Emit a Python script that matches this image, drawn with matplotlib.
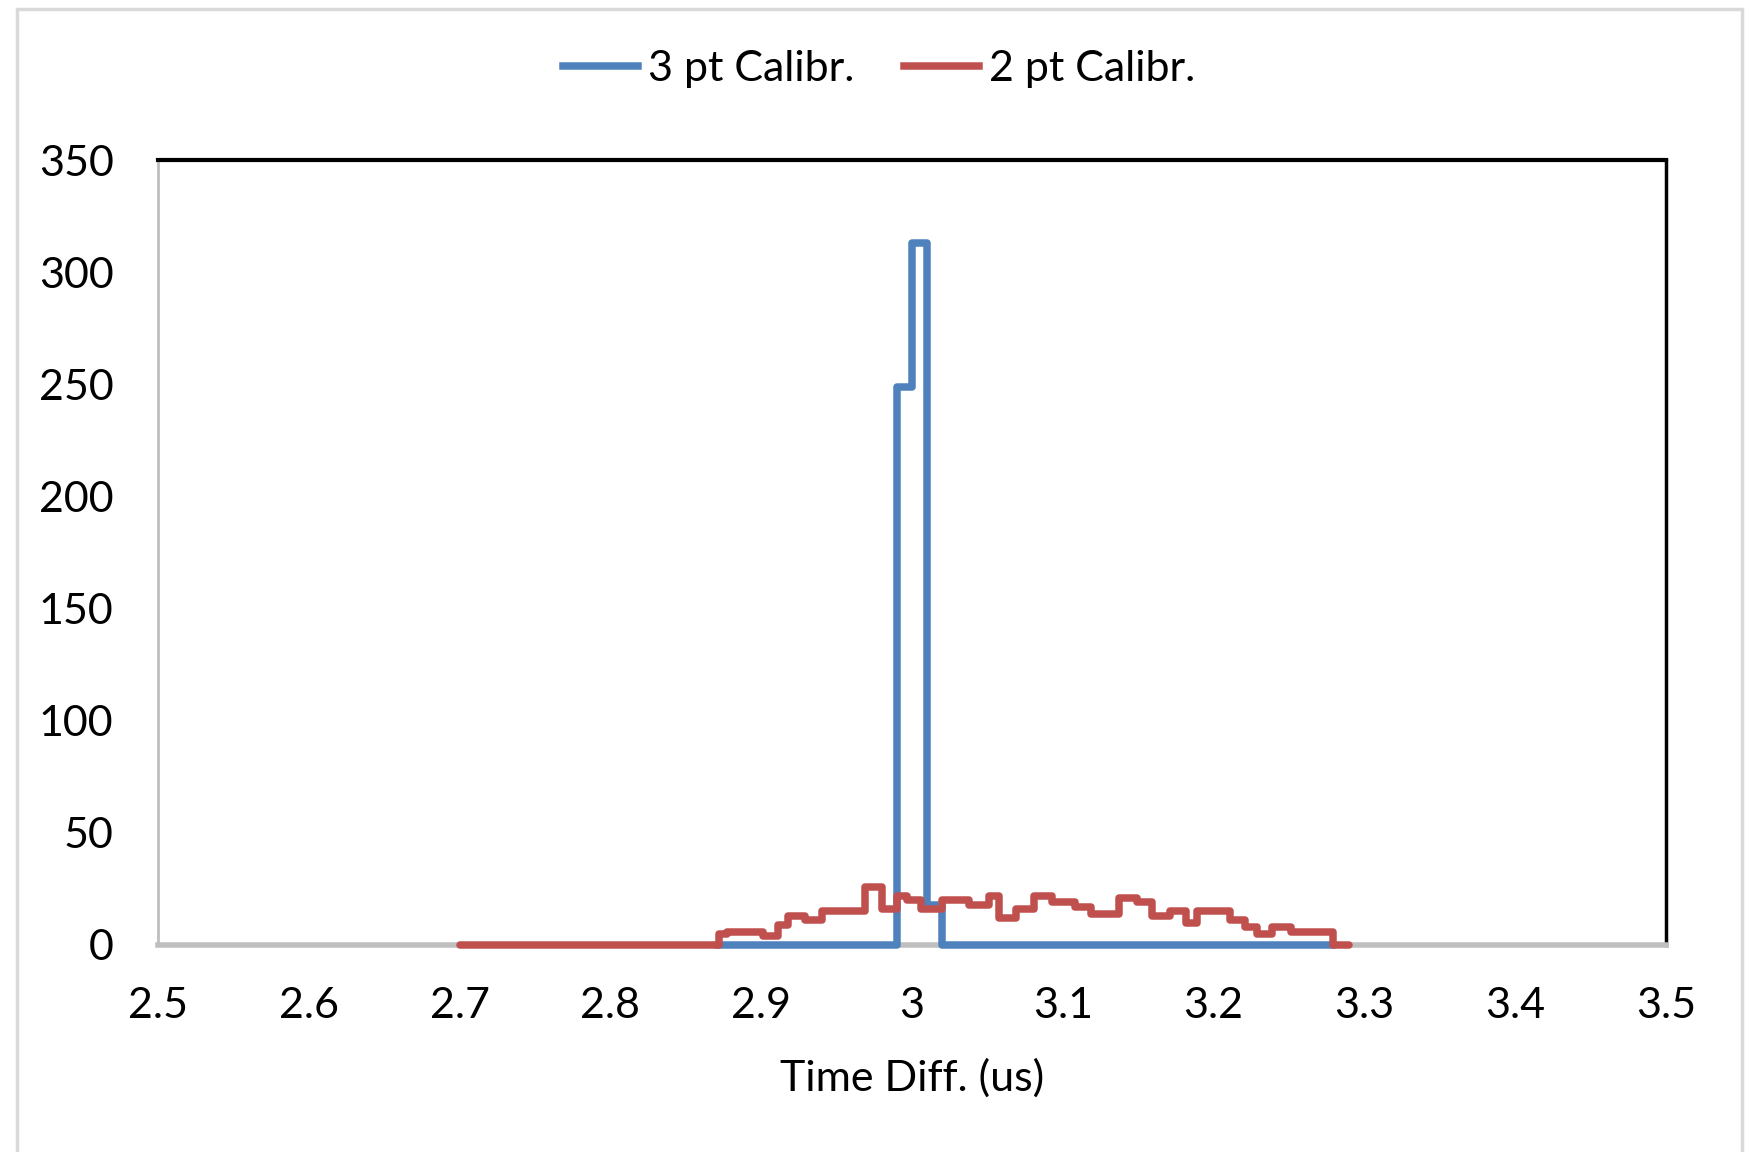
# Imports
import matplotlib
matplotlib.use("Agg")
import matplotlib.pyplot as plt
from matplotlib.patches import Rectangle

# ===== DATEN =====
# 3 pt Calibr.: Bin-Kanten und Zählwerte
x_3pt = [2.87, 2.99, 3.00, 3.01, 3.02, 3.28]
n_3pt = [0, 249, 313, 18, 0]

# 2 pt Calibr.: Bin-Kanten und Zählwerte
x_2pt = [2.700, 2.872, 2.877, 2.901, 2.911, 2.918, 2.929, 2.940, 2.969,
         2.980, 2.990, 2.997, 3.006, 3.020, 3.038, 3.051, 3.058, 3.069,
         3.081, 3.093, 3.108, 3.119, 3.137, 3.149, 3.159, 3.171, 3.182,
         3.189, 3.211, 3.221, 3.229, 3.239, 3.251, 3.279, 3.290]
n_2pt = [0, 5, 6, 4, 9, 13, 11, 15, 26,
         16, 22, 20, 16, 20, 18, 22, 12, 16,
         22, 19, 17, 14, 21, 19, 13, 15, 10,
         15, 11, 8, 5, 8, 6, 0]

x_ticks = [2.5, 2.6, 2.7, 2.8, 2.9, 3.0, 3.1, 3.2, 3.3, 3.4, 3.5]
x_tick_labels = ["2.5", "2.6", "2.7", "2.8", "2.9", "3", "3.1", "3.2", "3.3", "3.4", "3.5"]
y_ticks = [0, 50, 100, 150, 200, 250, 300, 350]

BLUE = "#4F81BD"
RED = "#C0504D"
GRAY = "#BFBFBF"

plt.rcParams["font.family"] = ["Lato", "DejaVu Sans"]

# ===== PLOT-STRUKTUR =====
fig = plt.figure(figsize=(17.54, 11.52), dpi=100)
ax = fig.add_axes([158 / 1754, 1 - 945 / 1152, (1666 - 158) / 1754, (945 - 160) / 1152])

# ===== PLOTTEN =====
ax.stairs(n_3pt, x_3pt, color=BLUE, linewidth=5.4, joinstyle="round",
          capstyle="round", label="3 pt Calibr.", zorder=3, clip_on=False)
ax.stairs(n_2pt, x_2pt, color=RED, linewidth=5.4, joinstyle="round",
          capstyle="round", label="2 pt Calibr.", zorder=4, clip_on=False)

ax.set_xlim(2.5, 3.5)
ax.set_ylim(0, 350)
ax.set_xticks(x_ticks)
ax.set_xticklabels(x_tick_labels)
ax.set_yticks(y_ticks)
ax.tick_params(axis="both", length=0, labelsize=31, colors="black")
ax.tick_params(axis="x", pad=30)
ax.tick_params(axis="y", pad=32)

# Rahmen
ax.spines["top"].set_color("black")
ax.spines["top"].set_linewidth(3)
ax.spines["right"].set_color("black")
ax.spines["right"].set_linewidth(2.5)
ax.spines["left"].set_color(GRAY)
ax.spines["left"].set_linewidth(2)
ax.spines["bottom"].set_color(GRAY)
ax.spines["bottom"].set_linewidth(4)

fig.text(912 / 1754, 1 - 1078 / 1152, "Time Diff. (us)", fontsize=31,
         ha="center", va="center")

# Legende
ax.legend(loc="center", bbox_to_anchor=(879 / 1754, 1 - 69 / 1152),
          bbox_transform=fig.transFigure, ncol=2, frameon=False, fontsize=31,
          handlelength=1.75, handletextpad=0.22, columnspacing=1.15)

# Äußerer Diagrammrahmen
fig.patches.append(Rectangle((17 / 1754, -0.05), (1742 - 17) / 1754, 1 - 9 / 1152 + 0.05,
                             transform=fig.transFigure, fill=False,
                             edgecolor="#D9D9D9", linewidth=2.5))

# ===== SPEICHERN =====
fig.savefig("out.png", dpi=100)
plt.close(fig)
